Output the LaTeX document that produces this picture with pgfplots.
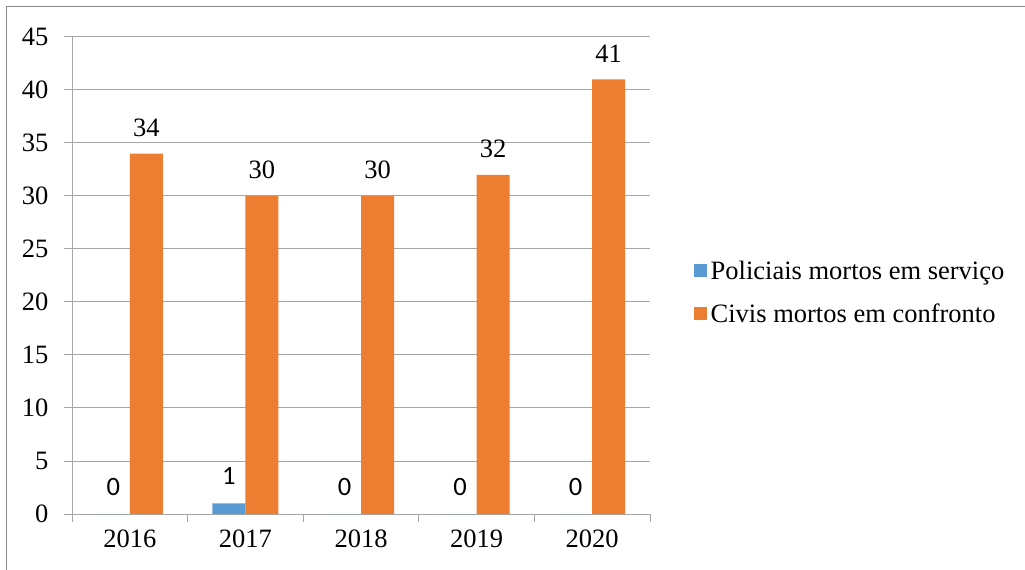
\documentclass[border=0pt]{standalone}
\usepackage{fontspec}
\setmainfont{Liberation Serif}
\newfontfamily\calibri{Carlito}
\usepackage{pgfplots}
\pgfplotsset{compat=1.18}
\definecolor{cblue}{HTML}{5B9BD5}
\definecolor{corange}{HTML}{ED7D31}
\definecolor{gridgray}{RGB}{166,166,166}
\definecolor{framegray}{RGB}{134,134,134}
\begin{document}
\begin{tikzpicture}
\useasboundingbox (0,0) rectangle (1025pt,570pt);
\draw[framegray, line width=1pt] (6pt,0) -- (6pt,563pt) -- (1025pt,563pt);
\begin{axis}[
  at={(72pt,56pt)}, anchor=south west,
  scale only axis, width=578pt, height=477pt,
  xmin=0.5, xmax=5.5, ymin=0, ymax=45,
  ytick={0,5,...,45},
  xtick={0.5,1.5,...,5.5}, xticklabels={},
  extra x ticks={1,2,3,4,5},
  extra x tick labels={2016,2017,2018,2019,2020},
  extra x tick style={major tick length=0pt, grid=none},
  axis lines*=left, axis line style={-, draw=gridgray, line width=1pt},
  ymajorgrids, grid style={gridgray, line width=1pt},
  tick style={gridgray, line width=1pt},
  tick align=outside, major tick length=8pt,
  /pgf/number format/assume math mode=true,
  tick label style={font=\fontsize{26.5}{31}\selectfont},
  yticklabel style={xshift=-12pt},
  xticklabel style={yshift=-12pt},
  ybar, bar width=33pt,
  legend style={draw=none, fill=none, at={(1.07,0.465)}, anchor=west,
    font=\fontsize{26.5}{31}\selectfont, row sep=19pt, legend cell align=left,
    nodes={inner xsep=4pt}},
  legend image code/.code={\fill[#1,draw=none] (0pt,-6.5pt) rectangle (13pt,6.5pt);},
]
\addplot[fill=cblue, draw=none, bar shift=-16.5pt,
  nodes near coords,
  every node near coord/.append style={font=\calibri\fontsize{26.5}{31}\selectfont, anchor=center, yshift=27pt, text=black}]
  coordinates {(1,0) (2,1) (3,0) (4,0) (5,0)};
\addlegendentry{Policiais mortos em serviço}
\addplot[fill=corange, draw=none, bar shift=16.5pt,
  nodes near coords,
  every node near coord/.append style={font=\fontsize{26.5}{31}\selectfont, anchor=center, yshift=26pt, text=black}]
  coordinates {(1,34) (2,30) (3,30) (4,32) (5,41)};
\addlegendentry{Civis mortos em confronto}
\end{axis}
\end{tikzpicture}
\end{document}
